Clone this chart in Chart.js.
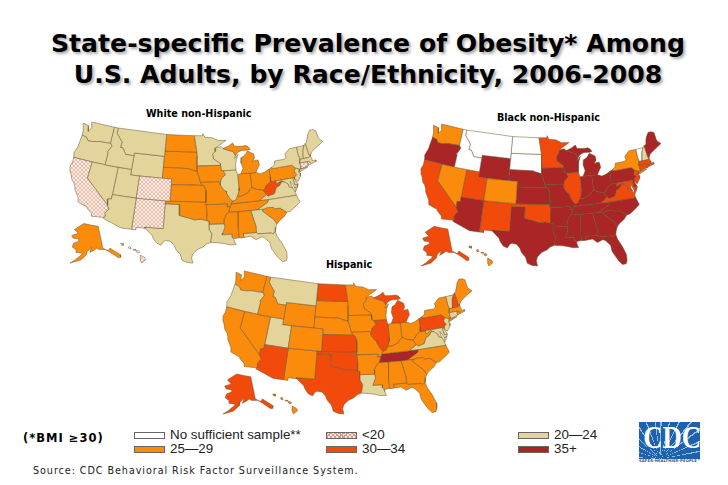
<!DOCTYPE html>
<html>
<head>
<meta charset="utf-8">
<script src="https://cdn.jsdelivr.net/npm/chart.js@4"></script>
<style>
  html, body { margin: 0; padding: 0; background: #fff; }
  body { width: 728px; height: 485px; position: relative; overflow: hidden; font-family: "DejaVu Sans", sans-serif; color: #000; }
  canvas { position: absolute; }
  .title { position: absolute; left: 0; width: 736px; text-align: center; font-weight: bold; font-size: 25.15px; white-space: nowrap; text-shadow: 2px 2px 3px #a8a8a8; }
  .map-label { position: absolute; font-weight: bold; font-size: 9.6px; white-space: nowrap; }
  .swatch { position: absolute; width: 29px; height: 5px; border: 1px solid #666; }
  .legend-text { position: absolute; font-family: "Liberation Sans", sans-serif; font-size: 13.4px; line-height: 16px; color: #222; white-space: nowrap; }
  #bmi { position: absolute; left: 23px; top: 431px; font-weight: bold; font-size: 11.5px; letter-spacing: 1px; white-space: nowrap; }
  #source { position: absolute; left: 33px; top: 465px; font-size: 9.6px; letter-spacing: 0.95px; white-space: nowrap; color: #222; }
  #logo { position: absolute; left: 639px; top: 422px; width: 61px; height: 37px; overflow: hidden; background: #1c62ac; }
  #rays { position: absolute; inset: 0; background: repeating-conic-gradient(from 0deg at 35% 100%, rgba(255,255,255,0.55) 0deg 2deg, transparent 2deg 13deg); }
  #logo span { position: absolute; left: 0; top: 0; width: 61px; text-align: center; font-family: "Liberation Serif", serif; font-weight: bold; font-size: 31px; line-height: 31px; color: #fff; transform: scaleX(0.86); white-space: nowrap; }
  #tagline { position: absolute; left: 639px; top: 459px; font-size: 3.7px; font-weight: bold; color: #1c4f8c; white-space: nowrap; letter-spacing: 0.15px; }
</style>
</head>
<body>
<div class="title" style="top:29px">State-specific Prevalence of Obesity* Among</div>
<div class="title" style="top:60px">U.S. Adults, by Race/Ethnicity, 2006-2008</div>
<div class="map-label" style="left:146px;top:108px">White non-Hispanic</div>
<div class="map-label" style="left:497px;top:112px">Black non-Hispanic</div>
<div class="map-label" style="left:326px;top:259px">Hispanic</div>
<canvas id="white-map"></canvas>
<canvas id="black-map"></canvas>
<canvas id="hispanic-map"></canvas>
<div id="legend"></div>
<div id="bmi">(*BMI ≥30)</div>
<div id="source">Source: CDC Behavioral Risk Factor Surveillance System.</div>
<div id="logo"><div id="rays"></div><span>CDC</span></div>
<div id="tagline">SAFER·HEALTHIER·PEOPLE™</div>

<script>
//Legend classes, the value of each state below is an index into these
const classLabels = ["No sufficient sample**", "<20", "20\u201424", "25\u201429", "30\u201434", "35+"];

const stateCodes = ["AL","AK","AZ","AR","CA","CO","CT","DE","FL","GA","HI","ID","IL","IN","IA","KS","KY","LA","ME","MD","MA","MI","MN","MS","MO","MT","NE","NV","NH","NJ","NM","NY","NC","ND","OH","OK","OR","PA","RI","SC","SD","TN","TX","UT","VT","VA","WA","WV","WI","WY"];

//Class of each state, same order as stateCodes
const whiteClass    = [3,3,2,3,1,1,1,2,2,2,1,2,2,3,3,3,3,2,2,2,2,3,2,3,3,2,3,2,2,2,1,2,2,3,3,3,2,3,1,3,3,3,2,2,2,2,2,4,2,2];
const blackClass    = [5,4,5,5,4,3,4,5,5,5,3,0,4,5,5,5,5,5,5,4,4,5,4,5,5,0,5,3,2,4,4,3,5,0,5,4,5,5,4,5,0,5,5,4,0,4,3,5,5,5];
const hispanicClass = [3,4,4,3,3,3,2,2,3,3,3,3,4,3,3,4,3,2,3,2,3,4,3,3,3,2,3,3,4,2,3,3,3,4,3,4,2,4,3,3,3,5,4,2,2,2,3,3,3,3];

//State outlines, simplified, as [longitude, latitude]
const stateOutlines = {
  WA: [[[-124.7,48.4],[-123.2,48.2],[-122.9,47.2],[-122.4,47.9],[-122.8,49],[-117,49],[-117,46],[-119,45.9],[-119.6,45.9],[-121.2,45.6],[-122.3,45.55],[-122.9,46.1],[-124,46.25],[-124.1,47]]],
  OR: [[[-124,46.25],[-122.9,46.1],[-122.3,45.55],[-121.2,45.6],[-119.6,45.9],[-119,45.9],[-117,46],[-116.9,46],[-116.5,45.5],[-117.2,44.4],[-117,44.2],[-117,42],[-124.2,42],[-124.5,42.8],[-124.1,44]]],
  CA: [[[-124.2,42],[-120,42],[-120,39],[-114.6,35],[-114.1,34.3],[-114.5,33.9],[-114.7,33.4],[-114.5,33],[-114.7,32.7],[-117.1,32.5],[-117.3,33],[-118.4,33.75],[-118.5,34],[-119.2,34.15],[-120.5,34.5],[-120.7,35.2],[-121.9,36.6],[-122,37],[-122.5,37.7],[-123,38],[-123.8,39.3],[-124.35,40.3],[-124.1,41]]],
  NV: [[[-120,42],[-114.05,42],[-114.05,36.2],[-114.75,36.1],[-114.6,35],[-120,39]]],
  ID: [[[-117,49],[-116.05,49],[-116.05,48],[-114.4,46.6],[-114.5,45.6],[-113.9,45.6],[-113,44.5],[-111.05,44.5],[-111.05,42],[-117,42],[-117,44.2],[-117.2,44.4],[-116.5,45.5],[-116.9,46],[-117,46]]],
  MT: [[[-116.05,49],[-104.05,49],[-104.05,45],[-111.05,45],[-111.05,44.5],[-113,44.5],[-113.9,45.6],[-114.5,45.6],[-114.4,46.6],[-116.05,48]]],
  WY: [[[-111.05,45],[-104.05,45],[-104.05,41],[-111.05,41]]],
  UT: [[[-114.05,42],[-111.05,42],[-111.05,41],[-109.05,41],[-109.05,37],[-114.05,37]]],
  CO: [[[-109.05,41],[-102.05,41],[-102.05,37],[-109.05,37]]],
  AZ: [[[-114.05,37],[-109.05,37],[-109.05,31.33],[-111.07,31.33],[-114.8,32.5],[-114.7,32.7],[-114.5,33],[-114.7,33.4],[-114.5,33.9],[-114.1,34.3],[-114.6,35],[-114.75,36.1],[-114.05,36.2]]],
  NM: [[[-109.05,37],[-103,37],[-103,32],[-106.6,32],[-106.5,31.8],[-108.2,31.8],[-108.2,31.33],[-109.05,31.33]]],
  ND: [[[-104.05,49],[-97.2,49],[-96.55,46],[-104.05,45.95]]],
  SD: [[[-104.05,45.95],[-96.55,46],[-96.45,45.3],[-96.45,43.5],[-96.5,42.5],[-97.9,42.8],[-98.5,43],[-104.05,43]]],
  NE: [[[-104.05,43],[-98.5,43],[-97.9,42.8],[-96.5,42.5],[-96.1,41.7],[-95.75,40.58],[-95.3,40],[-102.05,40],[-102.05,41],[-104.05,41]]],
  KS: [[[-102.05,40],[-95.3,40],[-94.9,39.8],[-94.62,39.1],[-94.62,37],[-102.05,37]]],
  OK: [[[-103,37],[-94.62,37],[-94.43,35.4],[-94.48,33.64],[-95.5,33.9],[-97,33.8],[-98,34.1],[-99.5,34.4],[-100,34.56],[-100,36.5],[-103,36.5]]],
  TX: [[[-106.6,32],[-103,32],[-103,36.5],[-100,36.5],[-100,34.56],[-99.5,34.4],[-98,34.1],[-97,33.8],[-95.5,33.9],[-94.48,33.64],[-94.04,33.55],[-94.04,32],[-93.55,31.2],[-93.85,29.7],[-94.7,29.4],[-95.3,28.9],[-96.4,28.4],[-97.2,27.6],[-97.4,26.9],[-97.15,25.96],[-98.2,26.05],[-99.1,26.4],[-99.5,27.5],[-100.3,28.3],[-100.7,29.1],[-101.4,29.77],[-102.3,29.88],[-102.7,29.7],[-103.15,28.98],[-104,29.3],[-104.7,30.1],[-105,30.65],[-106.5,31.8]]],
  MN: [[[-97.2,49],[-95.15,49],[-95.15,49.4],[-94.6,48.7],[-92.9,48.6],[-91.4,48.05],[-89.5,48],[-92.1,46.75],[-92.3,46.1],[-92.9,45.6],[-92.75,44.75],[-91.25,43.85],[-91.2,43.5],[-96.45,43.5],[-96.45,45.3],[-96.55,46]]],
  IA: [[[-96.45,43.5],[-91.2,43.5],[-91.1,42.7],[-90.64,42.5],[-90.2,41.8],[-91.1,41.2],[-91.4,40.4],[-91.7,40.6],[-95.75,40.58],[-96.1,41.7],[-96.5,42.5]]],
  MO: [[[-95.75,40.58],[-91.7,40.6],[-91.4,40.4],[-91.5,40],[-90.7,39],[-90.2,38.8],[-90.2,38.4],[-89.5,37.3],[-89.1,37],[-89.4,36.5],[-89.7,36],[-90.37,36],[-90.15,36.5],[-94.62,36.5],[-94.62,39.1],[-94.9,39.8],[-95.3,40]]],
  AR: [[[-94.62,36.5],[-90.15,36.5],[-90.37,36],[-89.7,36],[-90.1,35],[-90.6,34.7],[-91.1,33.8],[-91.17,33],[-94.04,33],[-94.04,33.55],[-94.48,33.64],[-94.43,35.4]]],
  LA: [[[-94.04,33],[-91.17,33],[-91,32.4],[-91.5,31.3],[-91.6,31],[-89.73,31],[-89.8,30.5],[-89.5,30.2],[-89.4,29.8],[-89.1,29.1],[-90.2,29.1],[-91.3,29.4],[-92.2,29.55],[-93.85,29.7],[-93.55,31.2],[-94.04,32]]],
  MS: [[[-90.1,35],[-88.2,35],[-88.1,34.9],[-88.47,31.9],[-88.4,30.3],[-89.5,30.2],[-89.8,30.5],[-89.73,31],[-91.6,31],[-91.5,31.3],[-91,32.4],[-91.17,33],[-91.1,33.8],[-90.6,34.7]]],
  AL: [[[-88.2,35],[-85.6,35],[-85.18,32.87],[-85,32.3],[-85.05,31],[-87.6,31],[-87.5,30.3],[-88,30.25],[-88.4,30.3],[-88.47,31.9],[-88.1,34.9]]],
  TN: [[[-90.1,35],[-89.7,36],[-89.4,36.5],[-83.68,36.6],[-81.68,36.59],[-82,36.1],[-84.32,35],[-85.6,35],[-88.2,35]]],
  KY: [[[-89.4,36.5],[-89.1,37],[-88.5,37.1],[-88.05,37.8],[-87.1,37.8],[-86.3,38.1],[-85.7,38.3],[-85.4,38.7],[-84.8,39.1],[-84.3,38.9],[-83.7,38.65],[-82.6,38.4],[-82,37.55],[-83.68,36.6]]],
  IL: [[[-90.64,42.5],[-87.8,42.5],[-87.55,41.7],[-87.53,39.3],[-87.6,38.7],[-88.05,37.8],[-88.5,37.1],[-89.1,37],[-89.5,37.3],[-90.2,38.4],[-90.2,38.8],[-90.7,39],[-91.5,40],[-91.4,40.4],[-91.1,41.2],[-90.2,41.8]]],
  WI: [[[-92.1,46.75],[-90.8,46.9],[-90.4,46.55],[-89.1,46.15],[-88.1,45.9],[-87.6,45.1],[-87.9,44.6],[-87,45.3],[-87.5,44.4],[-87.8,43.3],[-87.8,42.5],[-90.64,42.5],[-91.1,42.7],[-91.2,43.5],[-91.25,43.85],[-92.75,44.75],[-92.9,45.6],[-92.3,46.1]]],
  MI: [[[-84.8,41.7],[-83.45,41.73],[-83.1,42.2],[-82.45,43],[-82.6,43.9],[-83.4,43.9],[-83.9,43.7],[-83.3,44.4],[-83.4,45.1],[-84.7,45.75],[-85.5,45],[-86.2,44.7],[-86.5,43.7],[-86.2,42.7],[-86.8,41.76]],
       [[-90.4,46.55],[-88.9,47],[-88,47.45],[-87.6,46.8],[-85.9,46.7],[-85,46.75],[-84.4,46.5],[-84,46],[-84.7,45.9],[-86,45.95],[-87,45.7],[-87.6,45.1],[-88.1,45.9],[-89.1,46.15]]],
  IN: [[[-87.55,41.7],[-86.8,41.76],[-84.8,41.7],[-84.8,39.1],[-85.4,38.7],[-85.7,38.3],[-86.3,38.1],[-87.1,37.8],[-88.05,37.8],[-87.6,38.7],[-87.53,39.3]]],
  OH: [[[-84.8,41.7],[-83.45,41.73],[-82.5,41.4],[-81.5,41.6],[-80.52,42],[-80.52,40.6],[-80.7,39.7],[-81.7,39.2],[-82.2,38.6],[-82.6,38.4],[-83.7,38.65],[-84.3,38.9],[-84.8,39.1]]],
  PA: [[[-80.52,42],[-79.76,42.27],[-79.76,42],[-75.35,42],[-74.7,41.35],[-75.1,40.95],[-75.1,40.7],[-74.75,40.2],[-75.4,39.8],[-75.8,39.72],[-80.52,39.72],[-80.52,40.6]]],
  NY: [[[-79.76,42.27],[-79,42.7],[-78.9,43.3],[-76.8,43.3],[-76.2,43.55],[-76.3,44.2],[-75,45],[-73.35,45],[-73.4,43.6],[-73.25,42.75],[-73.5,42.05],[-73.5,41.3],[-73.65,41],[-72,41.1],[-73.9,40.55],[-73.9,41],[-74.7,41.35],[-75.35,42],[-79.76,42]]],
  VT: [[[-73.35,45],[-71.5,45],[-72,44.3],[-72.4,43.2],[-72.46,42.73],[-73.25,42.75],[-73.4,43.6]]],
  NH: [[[-71.5,45],[-71.1,45.3],[-71,43.1],[-70.7,43.1],[-70.8,42.87],[-71.3,42.7],[-72.46,42.73],[-72.4,43.2],[-72,44.3]]],
  ME: [[[-71.1,45.3],[-70.8,45.4],[-70.3,46.2],[-70,46.7],[-69.2,47.45],[-68.3,47.35],[-67.8,47.07],[-67.8,45.7],[-67.45,45.2],[-67,44.85],[-68.5,44.3],[-69.5,43.9],[-70.2,43.6],[-70.7,43.1],[-71,43.1]]],
  MA: [[[-73.5,42.05],[-73.25,42.75],[-72.46,42.73],[-71.3,42.7],[-70.8,42.87],[-70.65,42.4],[-70.7,41.95],[-70,42],[-69.95,41.7],[-71.12,41.5],[-71.38,42.02],[-71.8,42.02]]],
  RI: [[[-71.8,42.02],[-71.38,42.02],[-71.12,41.5],[-71.85,41.32]]],
  CT: [[[-73.5,42.05],[-71.8,42.02],[-71.85,41.32],[-73.65,41],[-73.5,41.3]]],
  NJ: [[[-74.7,41.35],[-73.9,41],[-74.2,40.45],[-74,40.3],[-74.1,39.75],[-74.9,38.95],[-75.5,39.5],[-75.4,39.8],[-74.75,40.2],[-75.1,40.7],[-75.1,40.95]]],
  DE: [[[-75.8,39.72],[-75.4,39.8],[-75.5,39.5],[-75.05,38.45],[-75.7,38.45]]],
  MD: [[[-79.48,39.72],[-75.8,39.72],[-75.7,38.45],[-75.05,38.45],[-75.25,38.03],[-75.9,37.95],[-76.2,38.7],[-76.5,39.2],[-76.45,38.4],[-76.3,38],[-77,38.3],[-77.05,38.8],[-77.7,39.3],[-78.4,39.6],[-79.48,39.2]]],
  VA: [[[-83.68,36.6],[-81.68,36.59],[-75.9,36.55],[-76,37],[-76.3,38],[-77,38.3],[-77.05,38.8],[-77.7,39.3],[-78.3,39.4],[-78.9,38.8],[-79.7,38.5],[-80.3,37.5],[-81.7,37.2],[-82,37.55]],
       [[-75.9,37.95],[-75.25,38.03],[-75.95,37.15]]],
  WV: [[[-82.6,38.4],[-82.2,38.6],[-81.7,39.2],[-80.7,39.7],[-80.52,40.6],[-80.52,39.72],[-79.48,39.72],[-79.48,39.2],[-78.4,39.6],[-77.7,39.3],[-78.3,39.4],[-78.9,38.8],[-79.7,38.5],[-80.3,37.5],[-81.7,37.2],[-82,37.55]]],
  NC: [[[-84.32,35],[-82,36.1],[-81.68,36.59],[-75.9,36.55],[-75.5,35.25],[-76.5,34.65],[-77.9,33.9],[-78.55,33.85],[-79.7,34.8],[-80.8,34.82],[-81,35.1],[-82.3,35.2],[-83.1,35]]],
  SC: [[[-83.1,35],[-82.3,35.2],[-81,35.1],[-80.8,34.82],[-79.7,34.8],[-78.55,33.85],[-79.2,33.2],[-80.4,32.5],[-80.9,32.05],[-81.4,33],[-82,33.5],[-83.35,34.7]]],
  GA: [[[-85.6,35],[-84.32,35],[-83.1,35],[-83.35,34.7],[-82,33.5],[-81.4,33],[-80.9,32.05],[-81.2,31.5],[-81.45,30.72],[-82.05,30.36],[-82.2,30.57],[-84.86,30.7],[-85.05,31],[-85,32.3],[-85.18,32.87]]],
  FL: [[[-87.6,31],[-85.05,31],[-84.86,30.7],[-82.2,30.57],[-82.05,30.36],[-81.45,30.72],[-81.25,29.8],[-80.55,28.4],[-80.03,26.8],[-80.15,25.7],[-80.4,25.2],[-81.1,25.15],[-81.75,26],[-82.7,27.8],[-82.8,28.9],[-83.7,29.9],[-84.2,30.1],[-85.3,29.7],[-86.2,30.4],[-87.5,30.3]]],
  AK: [[[-141,69.6],[-141,60.3],[-137.5,58.9],[-135.5,59.7],[-133.5,58.4],[-130,56],[-130.5,54.8],[-132,54.9],[-134,56.5],[-136.5,58.1],[-139.5,59.6],[-144,60],[-146,60.7],[-148,60],[-151.5,59.2],[-150,61.2],[-153.5,59.5],[-154,58.2],[-158,56],[-163,54.8],[-165,54.3],[-162,55.8],[-158,58],[-157,58.8],[-162,59],[-162,60],[-165.5,61],[-165,62.6],[-161,63.6],[-161,64.6],[-166,64.6],[-168,65.6],[-164,66.5],[-162,66.9],[-166.5,68.3],[-163,69.5],[-157,71.2],[-149,70.5]]],
  HI: [[[-159.8,22.2],[-159.3,22.2],[-159.3,21.85],[-159.7,21.95]],
       [[-158.25,21.55],[-157.95,21.7],[-157.7,21.3],[-158.1,21.3]],
       [[-157.3,21.2],[-156.75,21.18],[-156.85,21.05],[-157.3,21.08]],
       [[-156.7,21],[-156.25,20.95],[-156,20.75],[-156.4,20.58],[-156.65,20.8]],
       [[-155.9,20.25],[-155.1,19.9],[-154.8,19.5],[-155.65,18.95],[-155.95,19.5]]]
};

const classColors = ["#ffffff", null, "#e3d49b", "#fb8b0a", "#f24a0b", "#a92526"];
const borderColor = "#6a5530";

//Pattern for the <20 class
function makeHatch() {
  const tile = document.createElement("canvas");
  tile.width = 4;
  tile.height = 4;
  const c = tile.getContext("2d");
  c.fillStyle = "#fdf0e8";
  c.fillRect(0, 0, 4, 4);
  c.strokeStyle = "#e9967a";
  c.lineWidth = 0.6;
  c.beginPath();
  c.moveTo(0, 0); c.lineTo(4, 4);
  c.moveTo(4, 0); c.lineTo(0, 4);
  c.stroke();
  return c.createPattern(tile, "repeat");
}
classColors[1] = makeHatch();

//Albers conic projection
function albers(lon0, lat0, p1, p2) {
  const rad = Math.PI / 180;
  const n = (Math.sin(p1 * rad) + Math.sin(p2 * rad)) / 2;
  const c = Math.cos(p1 * rad) ** 2 + 2 * n * Math.sin(p1 * rad);
  const rho0 = Math.sqrt(c - 2 * n * Math.sin(lat0 * rad)) / n;
  return ([lon, lat]) => {
    const rho = Math.sqrt(c - 2 * n * Math.sin(lat * rad)) / n;
    const theta = n * (lon - lon0) * rad;
    return [rho * Math.sin(theta), rho0 - rho * Math.cos(theta)];
  };
}

//Fits a group of rings into a box of the 0-1 map space (y runs downward)
function fitRings(rings, project, box) {
  const projected = rings.map(ring => ring.map(project));
  const all = projected.flat();
  const xs = all.map(p => p[0]);
  const ys = all.map(p => p[1]);
  const minX = Math.min(...xs), maxX = Math.max(...xs);
  const minY = Math.min(...ys), maxY = Math.max(...ys);
  return projected.map(ring => ring.map(p => ({
    x: box.x0 + (p[0] - minX) / (maxX - minX) * (box.x1 - box.x0),
    y: box.y0 + (maxY - p[1]) / (maxY - minY) * (box.y1 - box.y0)
  })));
}

const lowerCodes = stateCodes.filter(code => code !== "AK" && code !== "HI");
const lowerRings = fitRings(lowerCodes.flatMap(code => stateOutlines[code]), albers(-96, 37.5, 29.5, 45.5), {x0: 0, x1: 1, y0: 0, y1: 1});

const ringsByState = {};
let ringIndex = 0;
lowerCodes.forEach(code => {
  ringsByState[code] = stateOutlines[code].map(() => lowerRings[ringIndex++]);
});
ringsByState.AK = fitRings(stateOutlines.AK, albers(-154, 63, 55, 65), {x0: 0, x1: 0.2, y0: 0.72, y1: 1});
ringsByState.HI = fitRings(stateOutlines.HI, albers(-157, 20.5, 8, 18), {x0: 0.2, x1: 0.3, y0: 0.86, y1: 1});

function drawMap(id, rect, stateClass) {
  const pad = 4;
  const canvas = document.getElementById(id);
  canvas.width = rect.w + pad * 2;
  canvas.height = rect.h + pad * 2;
  canvas.style.left = (rect.x - pad) + "px";
  canvas.style.top = (rect.y - pad) + "px";

  const datasets = [];
  stateCodes.forEach((code, i) => {
    ringsByState[code].forEach(ring => {
      datasets.push({
        label: code,
        data: ring.concat([ring[0]]),
        showLine: true,
        fill: "shape",
        backgroundColor: classColors[stateClass[i]],
        borderColor: borderColor,
        borderWidth: 0.5,
        pointRadius: 0,
        tension: 0,
        clip: false
      });
    });
  });

  return new Chart(canvas, {
    type: "scatter",
    data: { datasets: datasets },
    options: {
      responsive: false,
      animation: false,
      events: [],
      layout: { padding: pad },
      plugins: { legend: { display: false }, tooltip: { enabled: false } },
      scales: {
        x: { type: "linear", display: false, min: 0, max: 1 },
        y: { type: "linear", display: false, min: 0, max: 1, reverse: true }
      }
    }
  });
}

drawMap("white-map", {x: 70, y: 122, w: 253, h: 141}, whiteClass);
drawMap("black-map", {x: 421, y: 124, w: 240, h: 142}, blackClass);
drawMap("hispanic-map", {x: 223, y: 271, w: 249, h: 143}, hispanicClass);

//Legend, row by row as in the slide
const legendSlots = [
  {cls: 0, x: 134, y: 432}, {cls: 1, x: 326, y: 432}, {cls: 2, x: 518, y: 432},
  {cls: 3, x: 134, y: 446}, {cls: 4, x: 326, y: 446}, {cls: 5, x: 518, y: 446}
];
const legend = document.getElementById("legend");
legendSlots.forEach(slot => {
  const swatch = document.createElement("div");
  swatch.className = "swatch";
  swatch.style.left = slot.x + "px";
  swatch.style.top = slot.y + "px";
  if (slot.cls === 1) {
    swatch.style.background = "repeating-linear-gradient(45deg,#e9967a 0 1px,transparent 1px 3px),repeating-linear-gradient(-45deg,#e9967a 0 1px,#fdf0e8 1px 3px)";
  } else {
    swatch.style.background = classColors[slot.cls];
  }
  legend.appendChild(swatch);

  const text = document.createElement("div");
  text.className = "legend-text";
  text.textContent = classLabels[slot.cls];
  text.style.left = (slot.x + 36) + "px";
  text.style.top = (slot.y - 5) + "px";
  legend.appendChild(text);
});
</script>
</body>
</html>
